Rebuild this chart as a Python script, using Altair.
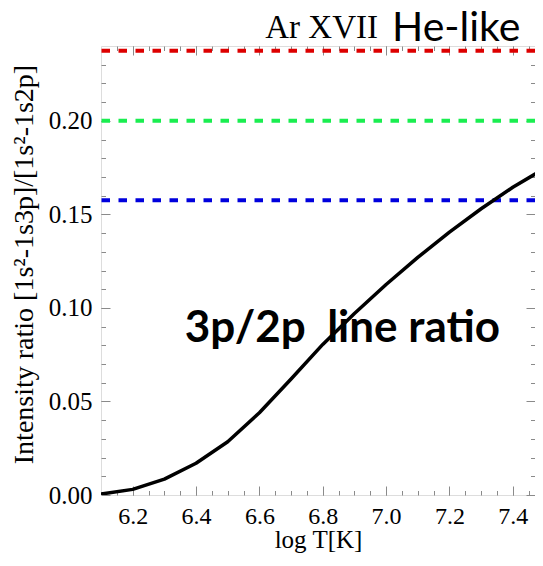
import altair as alt
import pandas as pd

# ---- data ----
log_t = [6.1, 6.2, 6.3, 6.4, 6.5, 6.6, 6.7, 6.8, 6.9, 7.0, 7.1, 7.2, 7.3, 7.4, 7.5]
ratio = [0.0005, 0.0030, 0.0085, 0.0170, 0.0285, 0.0440, 0.0620, 0.0805, 0.0970,
         0.1125, 0.1270, 0.1405, 0.1530, 0.1645, 0.1745]

ref_values = [0.2375, 0.2000, 0.1575]
ref_colors = ["#dd0000", "#1aee50", "#0000dd"]

x_major = [6.2, 6.4, 6.6, 6.8, 7.0, 7.2, 7.4]
x_minor = [6.15, 6.2, 6.25, 6.3, 6.35, 6.4, 6.45, 6.5, 6.55, 6.6, 6.65, 6.7, 6.75,
           6.8, 6.85, 6.9, 6.95, 7.0, 7.05, 7.1, 7.15, 7.2, 7.25, 7.3, 7.35, 7.4, 7.45]
y_major = [0.0, 0.05, 0.10, 0.15, 0.20]
y_minor = [0.01, 0.02, 0.03, 0.04, 0.05, 0.06, 0.07, 0.08, 0.09, 0.10, 0.11, 0.12,
           0.13, 0.14, 0.15, 0.16, 0.17, 0.18, 0.19, 0.20, 0.21, 0.22, 0.23]

x_domain = [6.1, 7.47]
y_domain = [0.0, 0.24]

title_parts = ["Ar XVII", "He-like"]
annotation = "3p/2p\u00a0 line ratio"
annot_x = [6.862]
annot_y = [0.082]

df = pd.DataFrame({"logT": log_t, "ratio": ratio})
ref_df = pd.DataFrame({"v": ref_values, "c": ref_colors})
ann_df = pd.DataFrame({"x": annot_x, "y": annot_y, "t": [annotation]})

xs = alt.Scale(domain=x_domain, nice=False, zero=False)
ys = alt.Scale(domain=y_domain, nice=False, zero=False)

SERIF = "Liberation Serif"
GRAY = "#8a8a8a"

# main curve with labelled axes
curve = alt.Chart(df).mark_line(color="black", strokeWidth=3.5, clip=True,
                                strokeJoin="round").encode(
    x=alt.X("logT:Q", scale=xs, axis=alt.Axis(
        orient="bottom", values=x_major, format=".1f", ticks=False, tickSize=0,
        domain=False, grid=False, labelFont=SERIF, labelFontSize=24,
        labelColor="black", labelPadding=28, labelBaseline="alphabetic",
        labelOverlap=False, labelFlush=False,
        title="log T[K]", titleFont=SERIF, titleFontSize=25,
        titleFontWeight="normal", titleColor="black", titleY=52.5,
        titleBaseline="alphabetic")),
    y=alt.Y("ratio:Q", scale=ys, axis=alt.Axis(
        orient="left", values=y_major, format=".2f", ticks=False, tickSize=0,
        domain=False, grid=False, labelFont=SERIF, labelFontSize=25,
        labelColor="black", labelPadding=9, labelOverlap=False, labelFlush=False,
        title="Intensity ratio [1s\u00b2-1s3p]/[1s\u00b2-1s2p]", titleFont=SERIF,
        titleFontSize=28, titleFontWeight="normal", titleColor="black",
        titleX=-77, titleY=218, titleAngle=270, titleAlign="center",
        titleBaseline="middle")),
)


def tick_layer(orient_x, orient_y, xv, yv, size):
    return alt.Chart(df).mark_point(opacity=0).encode(
        x=alt.X("logT:Q", scale=xs, axis=alt.Axis(
            orient=orient_x, values=xv, offset=-size, tickSize=size, ticks=True,
            tickColor=GRAY, tickWidth=1, labels=False, domain=False, grid=False,
            title=None)),
        y=alt.Y("ratio:Q", scale=ys, axis=alt.Axis(
            orient=orient_y, values=yv, offset=-size, tickSize=size, ticks=True,
            tickColor=GRAY, tickWidth=1, labels=False, domain=False, grid=False,
            title=None)),
    )


ticks_major_bl = tick_layer("bottom", "left", x_major, y_major, 9)
ticks_minor_bl = tick_layer("bottom", "left", x_minor, y_minor, 4.5)
ticks_major_tr = tick_layer("top", "right", x_major, y_major, 9)
ticks_minor_tr = tick_layer("top", "right", x_minor, y_minor, 4.5)

refs = alt.Chart(ref_df).mark_rule(strokeWidth=4, strokeDash=[8.5, 8.5]).encode(
    y=alt.Y("v:Q", scale=ys, axis=None),
    color=alt.Color("c:N", scale=None),
)

ann = alt.Chart(ann_df).mark_text(font="Lato", fontWeight="bold", fontSize=44,
                                  color="black", baseline="alphabetic",
                                  align="center").encode(
    x=alt.X("x:Q", scale=xs, axis=None),
    y=alt.Y("y:Q", scale=ys, axis=None),
    text="t:N",
)

t1 = alt.Chart(pd.DataFrame({"t": [title_parts[0]]})).mark_text(
    font=SERIF, fontSize=33, color="black", align="right", baseline="alphabetic"
).encode(x=alt.value(277), y=alt.value(-8), text="t:N")

t2 = alt.Chart(pd.DataFrame({"t": [title_parts[1]]})).mark_text(
    font="Lato", fontSize=41, color="black", align="left", baseline="alphabetic"
).encode(x=alt.value(291), y=alt.value(-5.5), text="t:N")

chart = alt.layer(
    refs, curve, ticks_major_bl, ticks_minor_bl, ticks_major_tr, ticks_minor_tr,
    ann, t1, t2
).resolve_axis(x="independent", y="independent").properties(
    width=434, height=449,
    padding={"left": 93, "top": 38, "right": 0, "bottom": 59},
    autosize=alt.AutoSizeParams(type="none"),
).configure_view(stroke=GRAY, strokeWidth=1).configure(background="white")

chart.save("out.html", embed_options={"renderer": "svg", "actions": False})
